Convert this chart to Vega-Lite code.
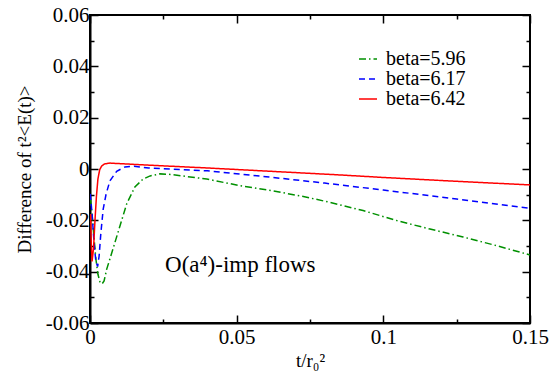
{
  "$schema": "https://vega.github.io/schema/vega-lite/v6.json",
  "width": 440,
  "height": 308,
  "autosize": {"type": "none"},
  "padding": {"left": 90, "top": 15, "right": 28, "bottom": 56},
  "background": "white",
  "config": {
    "view": {"stroke": "black", "strokeWidth": 2},
    "font": "Liberation Serif",
    "axis": {
      "labelFont": "Liberation Serif",
      "labelFontSize": 21,
      "labelColor": "black",
      "titleFont": "Liberation Serif",
      "titleFontSize": 19,
      "titleFontWeight": "normal",
      "titleColor": "black",
      "grid": false,
      "domain": true,
      "domainColor": "black",
      "domainWidth": 2,
      "tickColor": "black",
      "tickWidth": 1.5
    },
    "legend": {"labelFont": "Liberation Serif"},
    "text": {"font": "Liberation Serif"}
  },
  "layer": [
    {
      "data": {
        "values": [
          {"t": 0.0002, "v": -0.0117, "beta": "beta=5.96"},
          {"t": 0.0007, "v": -0.0175, "beta": "beta=5.96"},
          {"t": 0.0014, "v": -0.0273, "beta": "beta=5.96"},
          {"t": 0.002, "v": -0.035, "beta": "beta=5.96"},
          {"t": 0.0027, "v": -0.041, "beta": "beta=5.96"},
          {"t": 0.0034, "v": -0.044, "beta": "beta=5.96"},
          {"t": 0.0041, "v": -0.0448, "beta": "beta=5.96"},
          {"t": 0.0048, "v": -0.0436, "beta": "beta=5.96"},
          {"t": 0.0057, "v": -0.039, "beta": "beta=5.96"},
          {"t": 0.0068, "v": -0.035, "beta": "beta=5.96"},
          {"t": 0.0096, "v": -0.0245, "beta": "beta=5.96"},
          {"t": 0.0125, "v": -0.0136, "beta": "beta=5.96"},
          {"t": 0.0153, "v": -0.007, "beta": "beta=5.96"},
          {"t": 0.0181, "v": -0.0039, "beta": "beta=5.96"},
          {"t": 0.0205, "v": -0.0027, "beta": "beta=5.96"},
          {"t": 0.0239, "v": -0.0019, "beta": "beta=5.96"},
          {"t": 0.0273, "v": -0.0021, "beta": "beta=5.96"},
          {"t": 0.0398, "v": -0.0039, "beta": "beta=5.96"},
          {"t": 0.0511, "v": -0.0065, "beta": "beta=5.96"},
          {"t": 0.0624, "v": -0.0085, "beta": "beta=5.96"},
          {"t": 0.0739, "v": -0.011, "beta": "beta=5.96"},
          {"t": 0.0818, "v": -0.013, "beta": "beta=5.96"},
          {"t": 0.0931, "v": -0.0162, "beta": "beta=5.96"},
          {"t": 0.1046, "v": -0.0201, "beta": "beta=5.96"},
          {"t": 0.1159, "v": -0.0234, "beta": "beta=5.96"},
          {"t": 0.1272, "v": -0.0265, "beta": "beta=5.96"},
          {"t": 0.1387, "v": -0.0299, "beta": "beta=5.96"},
          {"t": 0.15, "v": -0.0335, "beta": "beta=5.96"},

          {"t": 0.0001, "v": -0.0097, "beta": "beta=6.17"},
          {"t": 0.0007, "v": -0.0175, "beta": "beta=6.17"},
          {"t": 0.0014, "v": -0.029, "beta": "beta=6.17"},
          {"t": 0.002, "v": -0.036, "beta": "beta=6.17"},
          {"t": 0.0026, "v": -0.038, "beta": "beta=6.17"},
          {"t": 0.0031, "v": -0.034, "beta": "beta=6.17"},
          {"t": 0.0037, "v": -0.025, "beta": "beta=6.17"},
          {"t": 0.0045, "v": -0.0156, "beta": "beta=6.17"},
          {"t": 0.0055, "v": -0.0097, "beta": "beta=6.17"},
          {"t": 0.0068, "v": -0.0046, "beta": "beta=6.17"},
          {"t": 0.0091, "v": -0.0009, "beta": "beta=6.17"},
          {"t": 0.0119, "v": 0.0008, "beta": "beta=6.17"},
          {"t": 0.015, "v": 0.0011, "beta": "beta=6.17"},
          {"t": 0.02, "v": 0.0004, "beta": "beta=6.17"},
          {"t": 0.025, "v": 0.0001, "beta": "beta=6.17"},
          {"t": 0.04, "v": -0.0007, "beta": "beta=6.17"},
          {"t": 0.06, "v": -0.003, "beta": "beta=6.17"},
          {"t": 0.08, "v": -0.0055, "beta": "beta=6.17"},
          {"t": 0.1, "v": -0.0082, "beta": "beta=6.17"},
          {"t": 0.125, "v": -0.0117, "beta": "beta=6.17"},
          {"t": 0.15, "v": -0.0153, "beta": "beta=6.17"},

          {"t": 0.0002, "v": -0.0175, "beta": "beta=6.42"},
          {"t": 0.0004, "v": -0.028, "beta": "beta=6.42"},
          {"t": 0.0007, "v": -0.036, "beta": "beta=6.42"},
          {"t": 0.0012, "v": -0.031, "beta": "beta=6.42"},
          {"t": 0.0017, "v": -0.02, "beta": "beta=6.42"},
          {"t": 0.0022, "v": -0.0105, "beta": "beta=6.42"},
          {"t": 0.0027, "v": -0.0039, "beta": "beta=6.42"},
          {"t": 0.0033, "v": -0.0003, "beta": "beta=6.42"},
          {"t": 0.004, "v": 0.0012, "beta": "beta=6.42"},
          {"t": 0.005, "v": 0.002, "beta": "beta=6.42"},
          {"t": 0.0068, "v": 0.0023, "beta": "beta=6.42"},
          {"t": 0.01, "v": 0.0021, "beta": "beta=6.42"},
          {"t": 0.02, "v": 0.0015, "beta": "beta=6.42"},
          {"t": 0.04, "v": 0.0004, "beta": "beta=6.42"},
          {"t": 0.06, "v": -0.0008, "beta": "beta=6.42"},
          {"t": 0.085, "v": -0.0023, "beta": "beta=6.42"},
          {"t": 0.1, "v": -0.0033, "beta": "beta=6.42"},
          {"t": 0.125, "v": -0.0048, "beta": "beta=6.42"},
          {"t": 0.15, "v": -0.0062, "beta": "beta=6.42"}
        ]
      },
      "mark": {"type": "line", "strokeWidth": 1.5, "clip": true},
      "encoding": {
        "x": {
          "field": "t", "type": "quantitative",
          "scale": {"domain": [0, 0.15], "nice": false, "zero": false},
          "axis": {
            "orient": "bottom",
            "title": "t/r₀²",
            "titleFont": "Liberation Serif",
            "titlePadding": 0,
            "values": [0, 0.025, 0.05, 0.075, 0.1, 0.125, 0.15],
            "tickSize": {"condition": {"test": "abs(datum.value/0.05 - round(datum.value/0.05)) < 0.000001", "value": -8}, "value": -4},
            "labelFont": "Liberation Serif",
            "labelFontSize": 21,
            "labelPadding": 11,
            "labelFlush": false,
            "labelOverlap": false,
            "labelExpr": "abs(datum.value/0.05 - round(datum.value/0.05)) < 0.000001 ? toString(datum.value) : ''"
          }
        },
        "y": {
          "field": "v", "type": "quantitative",
          "scale": {"domain": [-0.06, 0.06], "nice": false, "zero": false},
          "axis": {
            "orient": "left",
            "title": "Difference of t²<E(t)>",
            "titleFont": "Liberation Serif",
            "titlePadding": 11,
            "values": [-0.06, -0.05, -0.04, -0.03, -0.02, -0.01, 0, 0.01, 0.02, 0.03, 0.04, 0.05, 0.06],
            "tickSize": {"condition": {"test": "abs(datum.value/0.02 - round(datum.value/0.02)) < 0.000001", "value": -8}, "value": -4},
            "labelFont": "Liberation Serif",
            "labelFontSize": 21,
            "labelPadding": 9,
            "labelFlush": false,
            "labelOverlap": false,
            "labelExpr": "abs(datum.value/0.02 - round(datum.value/0.02)) < 0.000001 ? toString(datum.value) : ''"
          }
        },
        "color": {
          "field": "beta", "type": "nominal",
          "scale": {"domain": ["beta=5.96", "beta=6.17", "beta=6.42"], "range": ["#009000", "#0000ff", "#ff0000"]},
          "legend": {
            "title": null,
            "orient": "none",
            "legendX": 268,
            "legendY": 34,
            "symbolType": "stroke",
            "symbolSize": 324,
            "symbolStrokeWidth": 1.5,
            "labelFont": "Liberation Serif",
            "labelFontSize": 20,
            "labelColor": "black",
            "rowPadding": 0,
            "labelOffset": 8
          }
        },
        "strokeDash": {
          "field": "beta", "type": "nominal",
          "scale": {"domain": ["beta=5.96", "beta=6.17", "beta=6.42"], "range": [[7, 3, 1.5, 3], [6, 4], [1, 0]]},
          "legend": null
        }
      }
    },
    {
      "data": {"values": [{"t": 0.0256, "v": -0.0401, "label": "O(a⁴)-imp flows"}]},
      "mark": {"type": "text", "align": "left", "baseline": "alphabetic", "font": "Liberation Serif", "fontSize": 23, "color": "black"},
      "encoding": {
        "x": {"field": "t", "type": "quantitative", "axis": {"orient": "top", "title": null, "labels": false, "domain": false,
          "values": [0, 0.025, 0.05, 0.075, 0.1, 0.125, 0.15],
          "tickSize": {"condition": {"test": "abs(datum.value/0.05 - round(datum.value/0.05)) < 0.000001", "value": -8}, "value": -4}}},
        "y": {"field": "v", "type": "quantitative", "axis": {"orient": "right", "title": null, "labels": false, "domain": false,
          "values": [-0.06, -0.05, -0.04, -0.03, -0.02, -0.01, 0, 0.01, 0.02, 0.03, 0.04, 0.05, 0.06],
          "tickSize": {"condition": {"test": "abs(datum.value/0.02 - round(datum.value/0.02)) < 0.000001", "value": -8}, "value": -4}}},
        "text": {"field": "label"}
      }
    }
  ],
  "resolve": {"axis": {"x": "independent", "y": "independent"}}
}
